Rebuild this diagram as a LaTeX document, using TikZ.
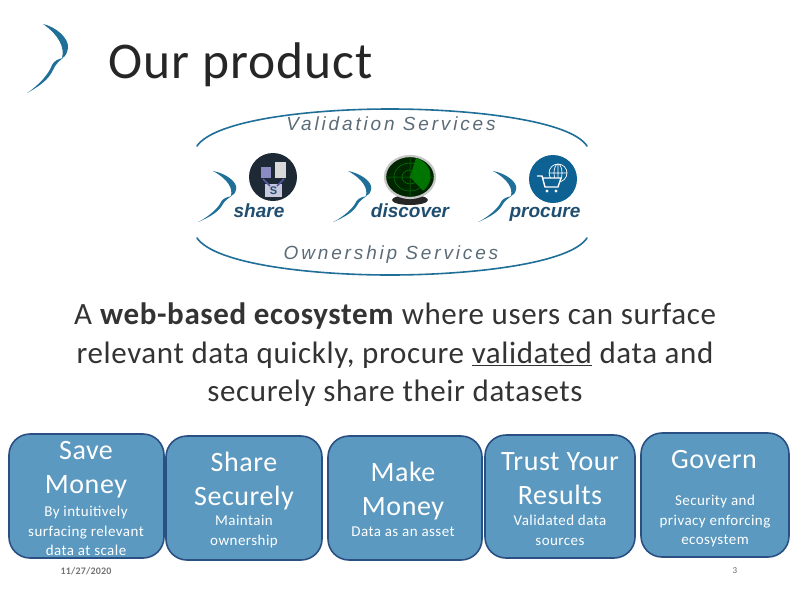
\documentclass[tikz,border=0pt]{standalone}
\usepackage{fontspec}
\setmainfont[LetterSpace=2]{Carlito}
\newfontfamily\servicefont[LetterSpace=15]{Liberation Sans}
\newfontfamily\brandfont{Liberation Sans}
\newfontfamily\smallfont[LetterSpace=3]{Carlito}
\usepackage{xcolor}
\usetikzlibrary{positioning, calc}
\definecolor{swooshblue}{HTML}{1F6F98}
\definecolor{boxfill}{HTML}{5B99C0}
\definecolor{boxline}{HTML}{2A5083}
\definecolor{brandblue}{HTML}{1F4E70}
\definecolor{procureblue}{HTML}{0D6193}
\definecolor{servicegray}{HTML}{5A6B78}
\definecolor{sharedark}{HTML}{1D2A36}
\tikzset{
    benefitbox/.style={draw=boxline, line width=1.6pt, fill=boxfill, rounded corners=21pt, inner sep=0pt},
    benefithead/.style={text=white, align=center, font=\fontsize{28}{34}\selectfont},
    benefitsub/.style={text=white, align=center, font=\fontsize{15}{19.5}\selectfont\smallfont},
    servicelabel/.style={text=servicegray, font=\fontsize{19}{22}\selectfont\servicefont\itshape},
    brandlabel/.style={text=brandblue, anchor=base, font=\fontsize{19}{22}\selectfont\brandfont\bfseries\itshape},
    arcline/.style={swooshblue, line width=1.6pt, line cap=round},
    pics/swoosh/.style={code={
        \fill[swooshblue] (0,0) .. controls (13,3) and (26,14) .. (25,24) .. controls (24,30) and (22,33) .. (19,34)
            .. controls (22,24) and (16,11) .. (0,0);
        \fill[swooshblue] (20,34) .. controls (15,35) and (11,37) .. (9,41) .. controls (6,50) and (-5,62) .. (-16,69)
            .. controls (-3,62) and (6,55) .. (10,46) .. controls (12,41) and (16,37) .. (20,34);
    }}
}
\begin{document}
\begin{tikzpicture}[x=1pt, y=-1pt]
    \useasboundingbox (0,0) rectangle (800,600);

    % logo and title
    \pic at (43,24) {swoosh};
    \node[anchor=west, text=black!85, font=\fontsize{51.5}{56}\selectfont] (title) at (105,65) {Our product};

    % service arcs
    \draw[arcline] (197,146) .. controls (215,120) and (310,109) .. (390,109) .. controls (470,109) and (570,120) .. (587,146);
    \draw[arcline] (197,238) .. controls (215,264) and (310,275) .. (390,275) .. controls (470,275) and (570,264) .. (587,238);
    \node[servicelabel] (validation) at (391,124) {Validation Services};
    \node[servicelabel] (ownership) at (391,255) {Ownership Services};

    % share icon
    \pic[xscale=0.93, yscale=0.74] at (213,171) {swoosh};
    \fill[sharedark] (273,177) circle (24);
    \fill[blue!30!gray!70!white] (261,167) rectangle (271,178);
    \fill[gray!30] (275,162) rectangle (286,178);
    \fill[blue!25!gray!35!white] (265,184) rectangle (282,197);
    \draw[blue!30!gray, line width=1.5pt] (263,179) -- (270,186);
    \draw[blue!30!gray, line width=1.5pt] (284,179) -- (277,186);
    \node[text=brandblue, inner sep=0pt, font=\fontsize{11}{12}\selectfont\brandfont\bfseries] (sharedoc) at (273.5,190.5) {S};
    \node[brandlabel] (share) at (259,217) {share};

    % discover icon
    \pic[xscale=0.93, yscale=0.74] at (348,171) {swoosh};
    \fill[black!85] (410,200) ellipse (18 and 5);
    \draw[gray!45, line width=2.2pt, fill=green!15!black] (410,177) ellipse (25 and 21);
    \fill[green!45!black] (410,177) -- (416,158) arc (-72:50:21 and 19) -- cycle;
    \draw[green!50!black, line width=0.5pt] (410,177) ellipse (8 and 7) (410,177) ellipse (16 and 14) (386,177) -- (434,177) (410,157) -- (410,197);
    \node[brandlabel] (discover) at (410,217) {discover};

    % procure icon
    \pic[xscale=0.93, yscale=0.74] at (493,171) {swoosh};
    \fill[procureblue] (553,179) circle (24);
    \draw[white, line width=0.7pt] (558,173) circle (9) (558,164) -- (558,182) (549,173) -- (567,173) (558,173) ellipse (4 and 9);
    \draw[white, line width=1.4pt, fill=procureblue] (537,176) -- (542,176) -- (545,187) -- (558,187) -- (561,178) -- (543,178);
    \fill[white] (547,191) circle (1.6) (556,191) circle (1.6);
    \node[brandlabel] (procure) at (545,217) {procure};

    % body text
    \node[align=center, text=black!80, font=\fontsize{31}{38.5}\selectfont] (body) at (395,355) {A \textbf{web-based ecosystem} where users can surface\\relevant data quickly, procure \underline{validated} data and\\securely share their datasets};

    % benefit boxes
    \node[benefitbox, minimum width=155pt, minimum height=124pt] (savebox) at (86.5,496) {};
    \node[benefitbox, minimum width=156pt, minimum height=124pt] (sharebox) at (244,498) {};
    \node[benefitbox, minimum width=154pt, minimum height=124pt] (moneybox) at (405,498) {};
    \node[benefitbox, minimum width=150pt, minimum height=123pt] (trustbox) at (560,496.5) {};
    \node[benefitbox, minimum width=148pt, minimum height=124pt] (governbox) at (715,495) {};

    \node[benefithead] (savehead) at (86,470) {Save\\Money};
    \node[benefitsub] (savesub) at (86,531) {By intuitively\\surfacing relevant\\data at scale};
    \node[benefithead] (sharehead) at (244,481.5) {Share\\Securely};
    \node[benefitsub] (sharesub) at (244,531.5) {Maintain\\ownership};
    \node[benefithead] (moneyhead) at (403,491.5) {Make\\Money};
    \node[benefitsub] (moneysub) at (403,532) {Data as an asset};
    \node[benefithead] (trusthead) at (560,479) {Trust Your\\Results};
    \node[benefitsub] (trustsub) at (560,530.5) {Validated data\\sources};
    \node[benefithead] (governhead) at (714,460) {Govern};
    \node[benefitsub] (governsub) at (715,521) {Security and\\privacy enforcing\\ecosystem};

    % footer
    \node[text=black!55, font=\fontsize{10}{11}\selectfont\bfseries] (datefoot) at (86,571) {11/27/2020};
    \node[text=black!60, font=\fontsize{9}{10}\selectfont] (pagefoot) at (735,571) {3};
\end{tikzpicture}
\end{document}
